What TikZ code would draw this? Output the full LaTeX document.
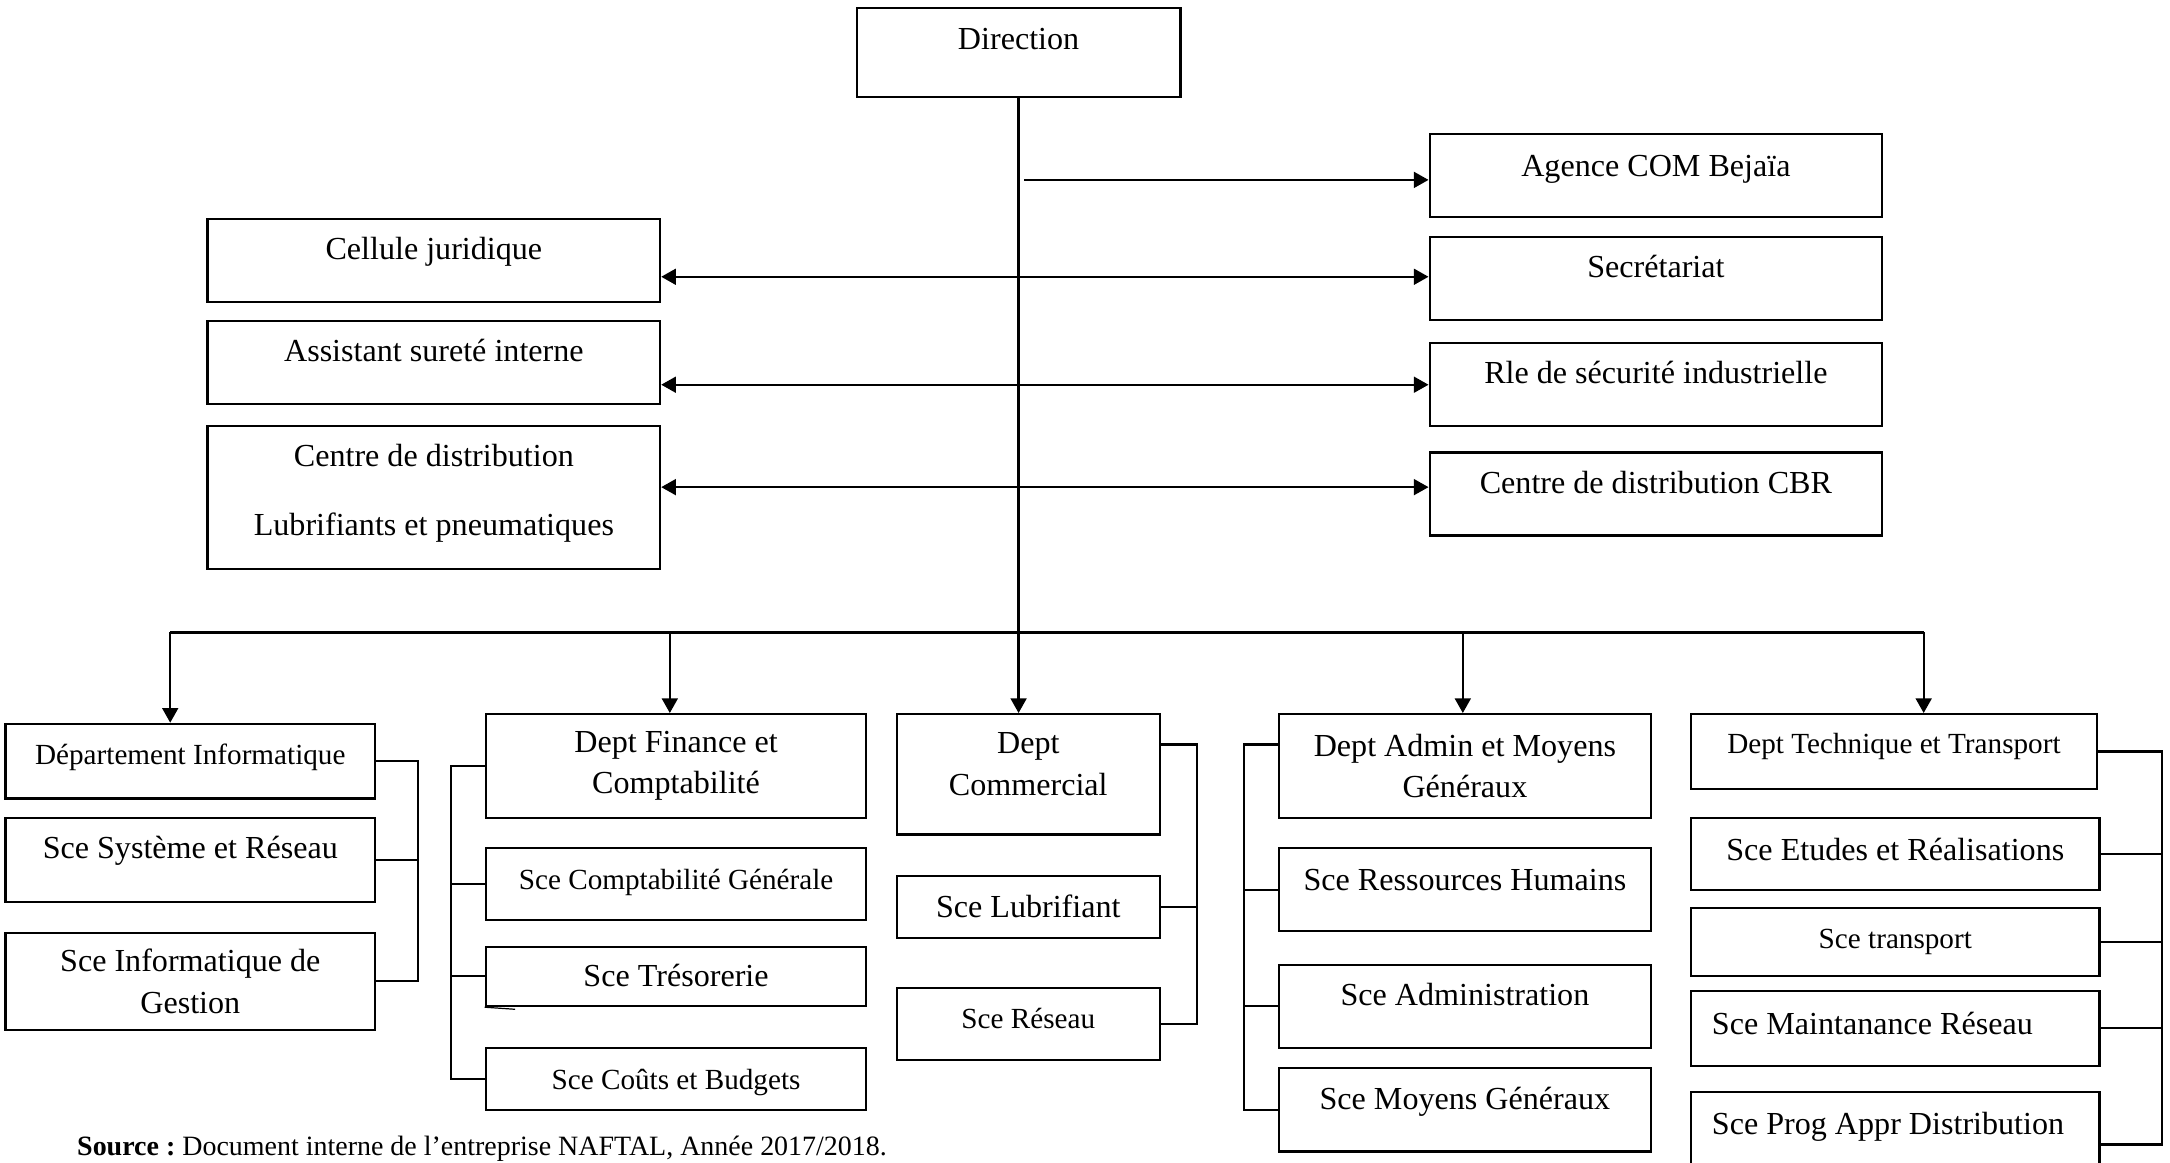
\documentclass[tikz,border=0pt]{standalone}
\usepackage{fontspec}
\setmainfont{Liberation Serif}
\usetikzlibrary{arrows.meta}
\frenchspacing

\begin{document}
\begin{tikzpicture}[
  line width=0.9pt,
  >={Triangle[length=6pt,width=6.5pt]},
  box/.style={draw, inner sep=0pt, align=center,
    font=\fontsize{13.2}{17}\selectfont},
  small/.style={font=\fontsize{12}{15}\selectfont},
  side/.style={box, minimum width=6.54cm, minimum height=1.2cm},
  lift/.style={text height=9.5pt, text depth=1pt+2*#1},
  lift/.default=0cm
]

% Frame
\useasboundingbox (0,0) rectangle (31.36,16.8);

%%%%%%%%%%%%%%%%%%%%%%%%%%%%%%%%%%%%%%%%%%%%%%%%%%
% Direction and attached services
%%%%%%%%%%%%%%%%%%%%%%%%%%%%%%%%%%%%%%%%%%%%%%%%%%

\node[box, lift=0.2cm, minimum width=4.68cm, minimum height=1.28cm]
  (dir) at (14.72,16.04) {Direction};

% Right side
\node[side, lift=0.14cm] (agence) at (23.93,14.26) {Agence COM Bejaïa};
\node[side, lift=0.16cm] (secr) at (23.93,12.78) {Secrétariat};
\node[side, lift=0.16cm] (rle) at (23.93,11.24) {Rle de sécurité industrielle};
\node[side, lift=0.16cm] (cbr) at (23.93,9.66) {Centre de distribution CBR};

% Left side
\node[side, lift=0.16cm] (cell) at (6.27,13.04) {Cellule juridique};
\node[side, lift=0.16cm] (assist) at (6.27,11.56) {Assistant sureté interne};
\node[side, minimum height=2.06cm, text depth=0.23cm] (cdl) at (6.27,9.61)
  {Centre de distribution\\[11.5pt]Lubrifiants et pneumatiques};

% Points on the trunk
\coordinate (t1) at (14.80,14.20);
\coordinate (t2) at (14.72,12.80);
\coordinate (t3) at (14.72,11.24);
\coordinate (t4) at (14.72,9.76);

% Arrows
\draw[->] (t1) -- (agence.west |- t1);
\draw[<->] (cell.east |- t2) -- (secr.west |- t2);
\draw[<->] (assist.east |- t3) -- (rle.west |- t3);
\draw[<->] (cdl.east |- t4) -- (cbr.west |- t4);

%%%%%%%%%%%%%%%%%%%%%%%%%%%%%%%%%%%%%%%%%%%%%%%%%%
% Departments
%%%%%%%%%%%%%%%%%%%%%%%%%%%%%%%%%%%%%%%%%%%%%%%%%%

% Informatique
\node[box, small, lift=0.10cm, minimum width=5.34cm, minimum height=1.08cm]
  (info) at (2.75,5.80) {Département Informatique};
\node[box, lift=0.17cm, minimum width=5.34cm, minimum height=1.22cm]
  (sysres) at (2.75,4.37) {Sce Système et Réseau};
\node[box, minimum width=5.34cm, minimum height=1.40cm]
  (infoges) at (2.75,2.62) {Sce Informatique de\\Gestion};

% Finance
\node[box, minimum width=5.50cm, minimum height=1.50cm]
  (fin) at (9.77,5.73) {Dept Finance et\\Comptabilité};
\node[box, small, lift=0.08cm, minimum width=5.50cm, minimum height=1.04cm]
  (compta) at (9.77,4.02) {Sce Comptabilité Générale};
\node[box, lift, minimum width=5.50cm, minimum height=0.86cm]
  (tres) at (9.77,2.69) {Sce Trésorerie};
\node[box, small, lift, minimum width=5.50cm, minimum height=0.90cm]
  (couts) at (9.77,1.21) {Sce Coûts et Budgets};

% Commercial
\node[box, minimum width=3.80cm, minimum height=1.74cm, text depth=0.30cm]
  (com) at (14.86,5.61) {Dept\\Commercial};
\node[box, lift, minimum width=3.80cm, minimum height=0.90cm]
  (lub) at (14.86,3.69) {Sce Lubrifiant};
\node[box, small, lift=0.08cm, minimum width=3.80cm, minimum height=1.04cm]
  (res) at (14.86,2.00) {Sce Réseau};

% Admin
\node[box, minimum width=5.38cm, minimum height=1.50cm]
  (adm) at (21.17,5.73) {Dept Admin et Moyens\\Généraux};
\node[box, lift=0.14cm, minimum width=5.38cm, minimum height=1.20cm]
  (rh) at (21.17,3.94) {Sce Ressources Humains};
\node[box, lift=0.16cm, minimum width=5.38cm, minimum height=1.20cm]
  (admin) at (21.17,2.26) {Sce Administration};
\node[box, lift=0.16cm, minimum width=5.38cm, minimum height=1.20cm]
  (mg) at (21.17,0.76) {Sce Moyens Généraux};

% Technique
\node[box, small, lift=0.12cm, minimum width=5.86cm, minimum height=1.08cm]
  (tech) at (27.37,5.94) {Dept Technique et Transport};
\node[box, lift=0.06cm, minimum width=5.90cm, minimum height=1.04cm]
  (etudes) at (27.39,4.46) {Sce Etudes et Réalisations};
\node[box, small, lift=0.05cm, minimum width=5.90cm, minimum height=0.98cm]
  (transp) at (27.39,3.19) {Sce transport};
\node[box, lift=0.06cm, minimum width=5.90cm, minimum height=1.08cm]
  (maint) at (27.39,1.94) {\makebox[5.3cm][l]{Sce Maintanance Réseau}};
\node[box, lift=0.30cm, minimum width=5.90cm, minimum height=1.52cm]
  (prog) at (27.39,0.26) {\makebox[5.3cm][l]{Sce Prog Appr Distribution}};

%%%%%%%%%%%%%%%%%%%%%%%%%%%%%%%%%%%%%%%%%%%%%%%%%%
% Trunk and bus
%%%%%%%%%%%%%%%%%%%%%%%%%%%%%%%%%%%%%%%%%%%%%%%%%%

\coordinate (b1) at (2.46,7.66);
\coordinate (b2) at (9.68,7.66);
\coordinate (b4) at (21.14,7.66);
\coordinate (b5) at (27.80,7.66);

\draw[->] (dir.south) -- (dir.south |- com.north);
\draw (b1) -- (b5);
\draw[->] (b1) -- (b1 |- info.north);
\draw[->] (b2) -- (b2 |- fin.north);
\draw[->] (b4) -- (b4 |- adm.north);
\draw[->] (b5) -- (b5 |- tech.north);

%%%%%%%%%%%%%%%%%%%%%%%%%%%%%%%%%%%%%%%%%%%%%%%%%%
% Brackets
%%%%%%%%%%%%%%%%%%%%%%%%%%%%%%%%%%%%%%%%%%%%%%%%%%

\coordinate (kinfo) at (6.04,0);
\coordinate (kfin) at (6.52,0);
\coordinate (kcom) at (17.30,0);
\coordinate (kadm) at (17.98,0);
\coordinate (ktech) at (31.24,0);
\coordinate (comhook) at ([yshift=4.3mm]com.east);
\coordinate (admhook) at ([yshift=3.1mm]adm.west);

% Informatique
\draw (info.east) -- (info.east -| kinfo) -- (infoges.east -| kinfo) -- (infoges.east);
\draw (sysres.east) -- (sysres.east -| kinfo);

% Finance
\draw (fin.west) -- (fin.west -| kfin) -- (couts.west -| kfin) -- (couts.west);
\draw (compta.west) -- (compta.west -| kfin);
\draw (tres.west) -- (tres.west -| kfin);
\draw[line width=0.5pt] (tres.south west) -- ++(0.44,-0.03);

% Commercial
\draw (comhook) -- (comhook -| kcom) -- (res.east -| kcom) -- (res.east);
\draw (lub.east) -- (lub.east -| kcom);

% Admin
\draw (admhook) -- (admhook -| kadm) -- (mg.west -| kadm) -- (mg.west);
\draw (rh.west) -- (rh.west -| kadm);
\draw (admin.west) -- (admin.west -| kadm);

% Technique
\draw (tech.east) -- (tech.east -| ktech) -- (prog.east -| ktech) -- (prog.east);
\draw (etudes.east) -- (etudes.east -| ktech);
\draw (transp.east) -- (transp.east -| ktech);
\draw (maint.east) -- (maint.east -| ktech);

% Source
\node[anchor=west, inner sep=0pt, font=\fontsize{11.5}{13}\selectfont] (src) at (1.10,0.20)
  {\textbf{Source :} Document interne de l’entreprise NAFTAL, Année 2017/2018.};

\end{tikzpicture}
\end{document}
